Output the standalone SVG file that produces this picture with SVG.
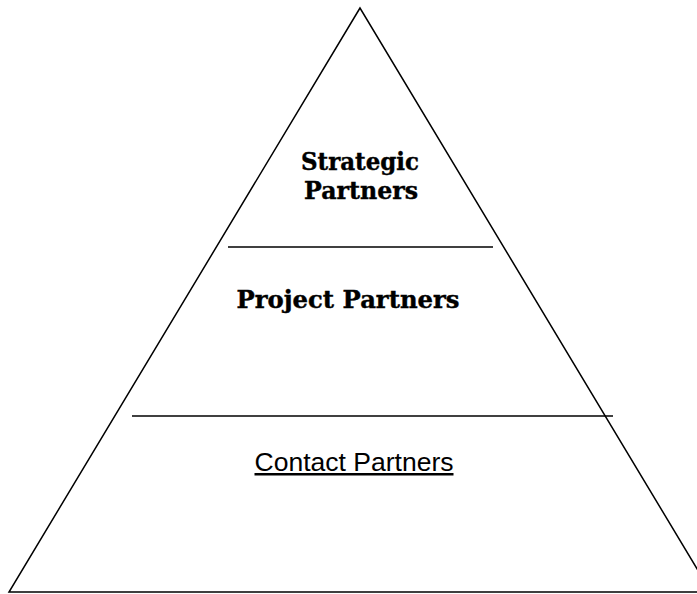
<svg xmlns="http://www.w3.org/2000/svg" width="697" height="594" viewBox="0 0 697 594">
<style>
.ln{stroke:#000;stroke-width:1.5;fill:none}
.tb{font-family:"DejaVu Serif","Liberation Serif",serif;font-weight:bold;font-size:24px;fill:#000;stroke:#000;stroke-width:0.4}
.ts{font-family:"Liberation Sans",Arial,sans-serif;font-size:25px;fill:#000;text-decoration:underline}
</style>
<rect width="697" height="594" fill="#fff"/>
<g id="pyramid">
<polygon class="ln" points="360,8 9,592 711,592"/>
</g>
<g id="connectors">
<line class="ln" x1="228" y1="247" x2="493" y2="247"/>
<line class="ln" x1="132" y1="416" x2="613" y2="416"/>
</g>
<g id="strategic">
<text class="tb" x="360" y="170" text-anchor="middle" textLength="118" lengthAdjust="spacingAndGlyphs">Strategic</text>
<text class="tb" x="361" y="199" text-anchor="middle" textLength="114" lengthAdjust="spacingAndGlyphs">Partners</text>
</g>
<g id="project">
<text class="tb" x="348" y="308" text-anchor="middle" textLength="223" lengthAdjust="spacingAndGlyphs">Project Partners</text>
</g>
<g id="contact">
<text class="ts" x="354" y="471" text-anchor="middle" textLength="199" lengthAdjust="spacingAndGlyphs">Contact Partners</text>
</g>
</svg>
